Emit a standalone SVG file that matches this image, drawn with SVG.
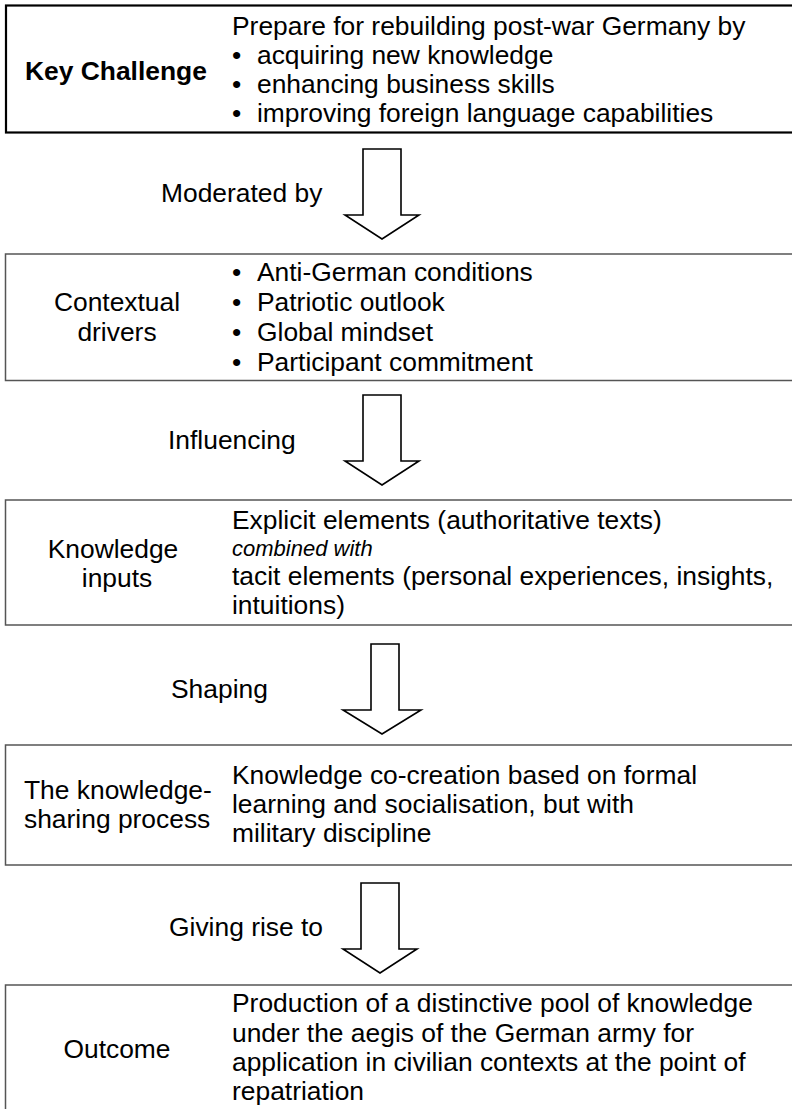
<svg xmlns="http://www.w3.org/2000/svg" width="792" height="1109" viewBox="0 0 792 1109">
<style>
text{font-family:"Liberation Sans",Arial,sans-serif;font-size:26.4px;fill:#000}
.c{text-anchor:middle}
.b{font-weight:bold}
.i{font-style:italic;font-size:22px}
.box{fill:#fff;stroke:#555;stroke-width:1.5}
.box1{fill:#fff;stroke:#000;stroke-width:2.2}
.arr{fill:#fff;stroke:#000;stroke-width:1.6;stroke-linejoin:miter}
</style>
<rect width="792" height="1109" fill="#fff"/>
<g id="connectors">
<path class="arr" d="M363,149 H401 V215 H419 L382,239 L345,215 H363 Z"/>
<path class="arr" d="M363,395 H401 V461 H419 L382,485 L345,461 H363 Z"/>
<path class="arr" d="M371,644 H399 V710 H421 L382,734 L343,710 H371 Z"/>
<path class="arr" d="M361,883 H399 V949 H417 L380,973 L343,949 H361 Z"/>
<text x="161" y="202">Moderated by</text>
<text x="168" y="449">Influencing</text>
<text x="171" y="698">Shaping</text>
<text x="169" y="936">Giving rise to</text>
</g>
<g id="key-challenge">
<rect class="box1" x="6" y="5.5" width="800" height="127"/>
<text class="b" x="25" y="80">Key Challenge</text>
<text x="232" y="35">Prepare for rebuilding post-war Germany by</text>
<text x="232" y="64">•</text><text x="257" y="64">acquiring new knowledge</text>
<text x="232" y="93">•</text><text x="257" y="93">enhancing business skills</text>
<text x="232" y="122">•</text><text x="257" y="122">improving foreign language capabilities</text>
</g>
<g id="contextual-drivers">
<rect class="box" x="5.5" y="254" width="800" height="126.5"/>
<text class="c" x="117" y="311">Contextual</text>
<text class="c" x="117" y="341">drivers</text>
<text x="232" y="281">•</text><text x="257" y="281">Anti-German conditions</text>
<text x="232" y="311">•</text><text x="257" y="311">Patriotic outlook</text>
<text x="232" y="341">•</text><text x="257" y="341">Global mindset</text>
<text x="232" y="371">•</text><text x="257" y="371">Participant commitment</text>
</g>
<g id="knowledge-inputs">
<rect class="box" x="5.5" y="500" width="800" height="125"/>
<text class="c" x="113" y="558">Knowledge</text>
<text class="c" x="117" y="587">inputs</text>
<text x="232" y="529">Explicit elements (authoritative texts)</text>
<text class="i" x="232" y="556">combined with</text>
<text x="232" y="585">tacit elements (personal experiences, insights,</text>
<text x="232" y="614">intuitions)</text>
</g>
<g id="knowledge-sharing">
<rect class="box" x="5.5" y="745" width="800" height="120"/>
<text x="24" y="799">The knowledge-</text>
<text x="24" y="828">sharing process</text>
<text x="232" y="784">Knowledge co-creation based on formal</text>
<text x="232" y="813">learning and socialisation, but with</text>
<text x="232" y="842">military discipline</text>
</g>
<g id="outcome">
<rect class="box" x="5.5" y="985" width="800" height="140"/>
<text class="c" x="117" y="1058">Outcome</text>
<text x="232" y="1012">Production of a distinctive pool of knowledge</text>
<text x="232" y="1042">under the aegis of the German army for</text>
<text x="232" y="1071">application in civilian contexts at the point of</text>
<text x="232" y="1100">repatriation</text>
</g>
</svg>
